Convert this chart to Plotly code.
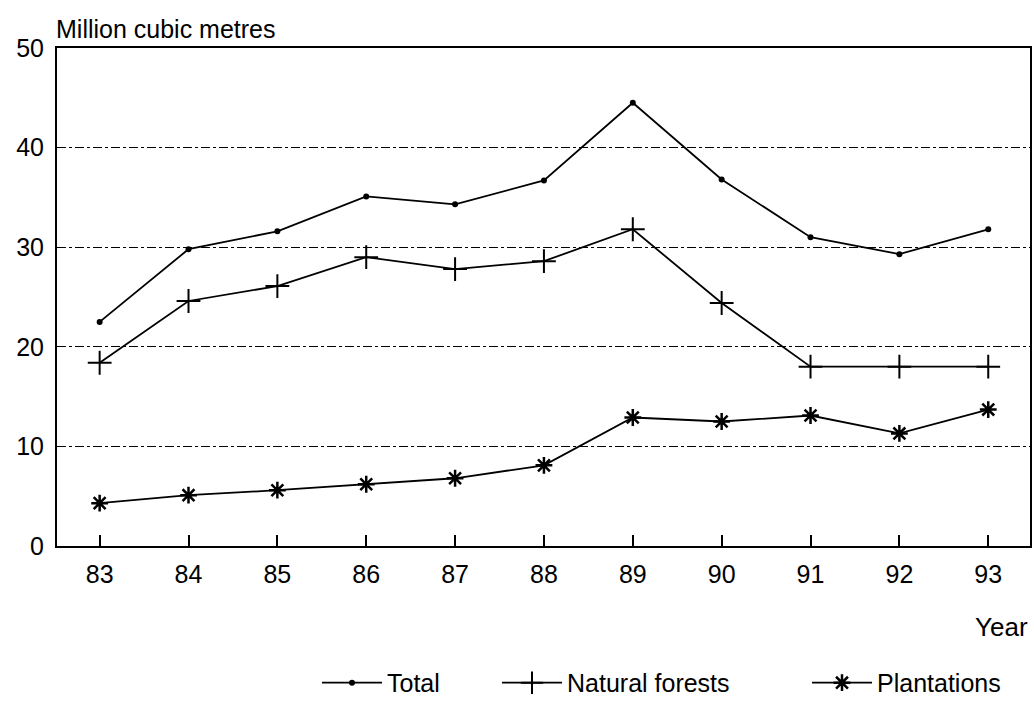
import plotly.graph_objects as go

# Datos
years = [83, 84, 85, 86, 87, 88, 89, 90, 91, 92, 93]
total = [22.5, 29.8, 31.6, 35.1, 34.3, 36.7, 44.5, 36.8, 31.0, 29.3, 31.8]
natural = [18.4, 24.6, 26.1, 29.0, 27.8, 28.6, 31.8, 24.4, 18.0, 18.0, 18.0]
plantations = [4.3, 5.1, 5.6, 6.2, 6.8, 8.1, 12.9, 12.5, 13.1, 11.3, 13.7]
y_ticks = [0, 10, 20, 30, 40, 50]

font_family = 'Liberation Sans, Arial, sans-serif'

fig = go.Figure()

fig.add_trace(go.Scatter(
    x=years, y=total, name='Total', mode='lines+markers', legend='legend',
    line=dict(color='black', width=1.8),
    marker=dict(symbol='circle', size=6, color='black')
))

fig.add_trace(go.Scatter(
    x=years, y=natural, name='Natural forests', mode='lines+markers', legend='legend2',
    line=dict(color='black', width=1.8),
    marker=dict(symbol='cross-thin', size=17, color='black',
                line=dict(color='black', width=2))
))

fig.add_trace(go.Scatter(
    x=years, y=plantations, name='Plantations', mode='lines+markers', legend='legend3',
    line=dict(color='black', width=1.8),
    marker=dict(symbol='asterisk', size=14, color='black',
                line=dict(color='black', width=2.5))
))

# leyendas separadas para colocar cada entrada como en el original
leg = dict(orientation='h', xanchor='left', y=-0.275, yanchor='middle',
           font=dict(size=25), itemwidth=60, bgcolor='rgba(0,0,0,0)')

fig.update_layout(
    width=1034, height=703,
    margin=dict(l=57, r=4, t=48, b=157, autoexpand=False),
    paper_bgcolor='white', plot_bgcolor='white',
    font=dict(family=font_family, size=25, color='black'),
    showlegend=True,
    legend=dict(leg, x=(317 - 57) / 973),
    legend2=dict(leg, x=(497 - 57) / 973),
    legend3=dict(leg, x=(807 - 57) / 973),
    xaxis=dict(
        range=[82.52, 93.47], tickvals=years, ticktext=[str(y) for y in years],
        ticks='inside', ticklen=11, tickwidth=1.5, tickcolor='black',
        showline=True, linecolor='black', linewidth=2, mirror=True,
        showgrid=False, zeroline=False, ticklabelstandoff=5,
        automargin=False, tickfont=dict(size=25)
    ),
    yaxis=dict(
        range=[0, 50], tickvals=y_ticks,
        showline=True, linecolor='black', linewidth=2, mirror=True,
        showgrid=True, gridcolor='black', gridwidth=1, griddash='dashdot',
        zeroline=False, ticks='', ticklabelstandoff=6,
        automargin=False, tickfont=dict(size=25)
    ),
    annotations=[
        dict(text='Million cubic metres', xref='paper', yref='paper',
             x=0, y=1, xanchor='left', yanchor='bottom', yshift=3, xshift=-3,
             showarrow=False, font=dict(size=25)),
        dict(text='Year', xref='paper', yref='paper',
             x=1, y=0, xanchor='right', yanchor='top', yshift=-64,
             showarrow=False, font=dict(size=26)),
    ]
)

fig.write_html("out.html", config={'displayModeBar': False},
               post_script="document.body.style.margin='0';")
